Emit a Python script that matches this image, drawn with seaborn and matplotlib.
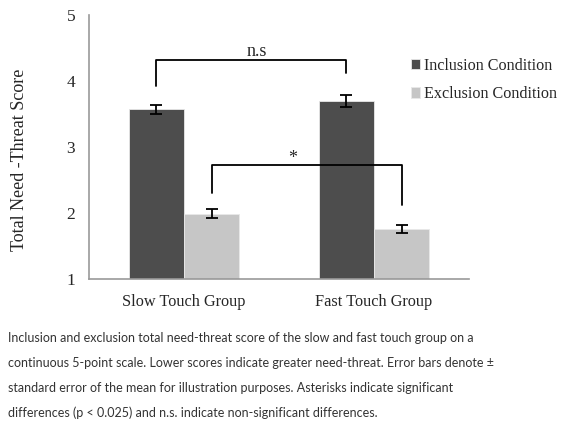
import numpy as np
import pandas as pd
import seaborn as sns
import matplotlib.pyplot as plt

groups = ['Slow Touch Group', 'Fast Touch Group']
conditions = ['Inclusion Condition', 'Exclusion Condition']
inclusion = [3.57, 3.70]
exclusion = [1.99, 1.76]
inclusion_se = [0.07, 0.09]
exclusion_se = [0.07, 0.06]
caption = ("Inclusion and exclusion total need-threat score of the slow and fast touch group on a\n"
           "continuous 5-point scale. Lower scores indicate greater need-threat. Error bars denote \u00b1\n"
           "standard error of the mean for illustration purposes. Asterisks indicate significant\n"
           "differences (p < 0.025) and n.s. indicate non-significant differences.")

data = pd.DataFrame({
    'group': groups * 2,
    'condition': [conditions[0]] * 2 + [conditions[1]] * 2,
    'score': inclusion + exclusion,
    'se': inclusion_se + exclusion_se,
})

sns.set_style('white')
plt.rcParams['font.family'] = ['Liberation Serif', 'DejaVu Serif']

fig = plt.figure(figsize=(5.65, 4.24), dpi=100)
ax = fig.add_axes([0.1575, 0.342, 0.6725, 0.6226])

sns.barplot(data=data, x='group', y='score', hue='condition',
            palette=['#4d4d4d', '#c6c6c6'], width=0.58, ax=ax,
            edgecolor='#e8e8e8', linewidth=0.6, errorbar=None)

# error bars at bar centres
for cont, col in zip(ax.containers, conditions):
    sub = data[data['condition'] == col]
    xs = [p.get_x() + p.get_width() / 2 for p in cont.patches]
    ax.errorbar(xs, sub['score'], yerr=sub['se'], fmt='none',
                ecolor='black', elinewidth=1.3, capsize=4, capthick=1.3)

ax.set_ylim(1, 5)
ax.set_xlim(-0.5, 1.5)
ax.set_yticks([1, 2, 3, 4, 5])
ax.set_xticks([0, 1])
ax.set_xticks([-0.5, 0.5, 1.5], minor=True)
ax.tick_params(axis='x', which='major', length=0, pad=11, labelsize=11.7)
ax.tick_params(axis='x', which='minor', length=4, direction='out', color='#999999')
ax.tick_params(axis='y', length=4, direction='out', color='#999999', pad=6, labelsize=12.5)
ax.set_xlabel('')
ax.set_ylabel('Total Need -Threat Score', fontsize=13)
ax.yaxis.set_label_coords(-0.161, 0.45)
for s in ['top', 'right']:
    ax.spines[s].set_visible(False)
for s in ['left', 'bottom']:
    ax.spines[s].set_color('#999999')
    ax.spines[s].set_linewidth(1.2)

# significance brackets
inc_x = [p.get_x() + p.get_width() / 2 for p in ax.containers[0].patches]
exc_x = [p.get_x() + p.get_width() / 2 for p in ax.containers[1].patches]
ax.plot([inc_x[0], inc_x[0], inc_x[1], inc_x[1]], [3.92, 4.32, 4.32, 4.12],
        color='black', lw=1.3, clip_on=False)
ax.text((inc_x[0] + inc_x[1]) / 2 + 0.03, 4.45, 'n.s', ha='center', va='center', fontsize=13)
ax.plot([exc_x[0], exc_x[0], exc_x[1], exc_x[1]], [2.30, 2.73, 2.73, 2.12],
        color='black', lw=1.3, clip_on=False)
ax.text(0.57, 2.82, '*', ha='center', va='center', fontsize=13)

ax.legend(loc='upper left', bbox_to_anchor=(0.83, 0.863), frameon=False,
          fontsize=11.6, handlelength=0.6, handleheight=0.6, handletextpad=0.25,
          labelspacing=0.78, borderaxespad=0)

fig.text(0.014, 0.216, caption, ha='left', va='top', fontsize=9.0,
         family=['Lato', 'DejaVu Sans'], color='#333333', linespacing=2.26)

fig.savefig('out.png', dpi=100)
